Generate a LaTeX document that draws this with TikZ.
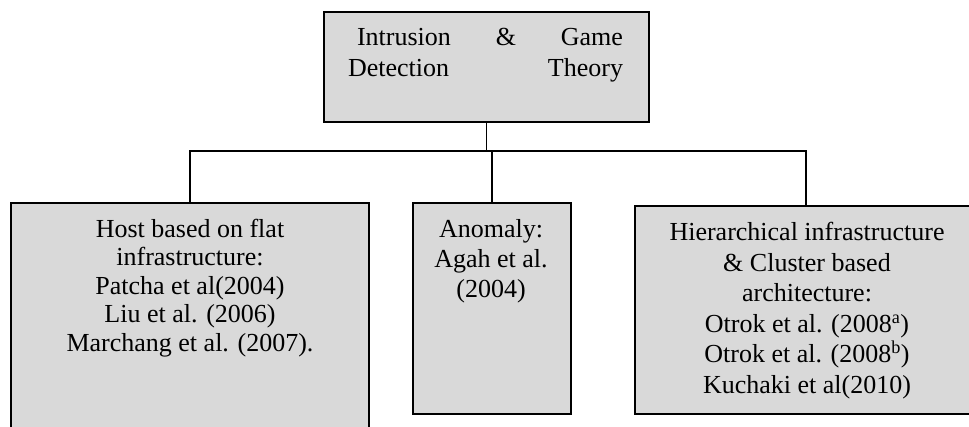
\documentclass[tikz,border=0pt]{standalone}
\usepackage{fontspec}
\setmainfont{Liberation Serif}
\definecolor{boxgray}{HTML}{D9D9D9}
\begin{document}
\begin{tikzpicture}[x=1pt,y=-1pt,
  box/.style={draw=black, fill=boxgray, line width=1.7pt, inner sep=0pt, rectangle},
  txt/.style={inner sep=0pt, align=center, anchor=north, font=\fontsize{26}{28.5}\selectfont},
  conn/.style={draw=black, line width=1.7pt}]
\useasboundingbox (0,0) rectangle (969,427);
\clip (0,0) rectangle (969,427);
% boxes
\node[box, anchor=north west, minimum width=325pt, minimum height=110pt] (top) at (323,11) {};
\node[box, anchor=north west, minimum width=358pt, minimum height=260pt] (left) at (10,202) {};
\node[box, anchor=north west, minimum width=158pt, minimum height=211pt] (mid) at (412,202) {};
\node[box, anchor=north west, minimum width=346pt, minimum height=207.5pt] (right) at (634,205.5) {};
% texts
\node[txt, text width=275pt, align=left, font=\fontsize{26}{31}\selectfont] (toptxt) at (485.5,25)
  {\rule{0pt}{20pt}\hspace*{9pt}Intrusion\hfill\&\hfill Game\hspace*{6pt}\\Detection\hfill Theory};
\node[txt] (lefttxt) at (190,217.3)
  {\rule{0pt}{20pt}Host based on flat\\infrastructure:\\Patcha et al(2004)\\Liu et al. (2006)\\Marchang et al. (2007).};
\node[txt, font=\fontsize{26}{30}\selectfont] (midtxt) at (491,217)
  {\rule{0pt}{20pt}Anomaly:\\Agah et al.\\(2004)};
\node[txt, font=\fontsize{26}{30.5}\selectfont] (righttxt) at (807,220.5)
  {\rule{0pt}{20pt}Hierarchical infrastructure\\\& Cluster based\\architecture:\\Otrok et al. (2008\textsuperscript{a})\\Otrok et al. (2008\textsuperscript{b})\\Kuchaki et al(2010)};
% connectors
\coordinate (bus) at (806,151);
\draw[conn] (top.south) -- (top.south |- bus);
\draw[conn] (left.north) |- (bus) -- (bus |- right.north);
\draw[conn] (mid.north) -- (mid.north |- bus);
\end{tikzpicture}
\end{document}
